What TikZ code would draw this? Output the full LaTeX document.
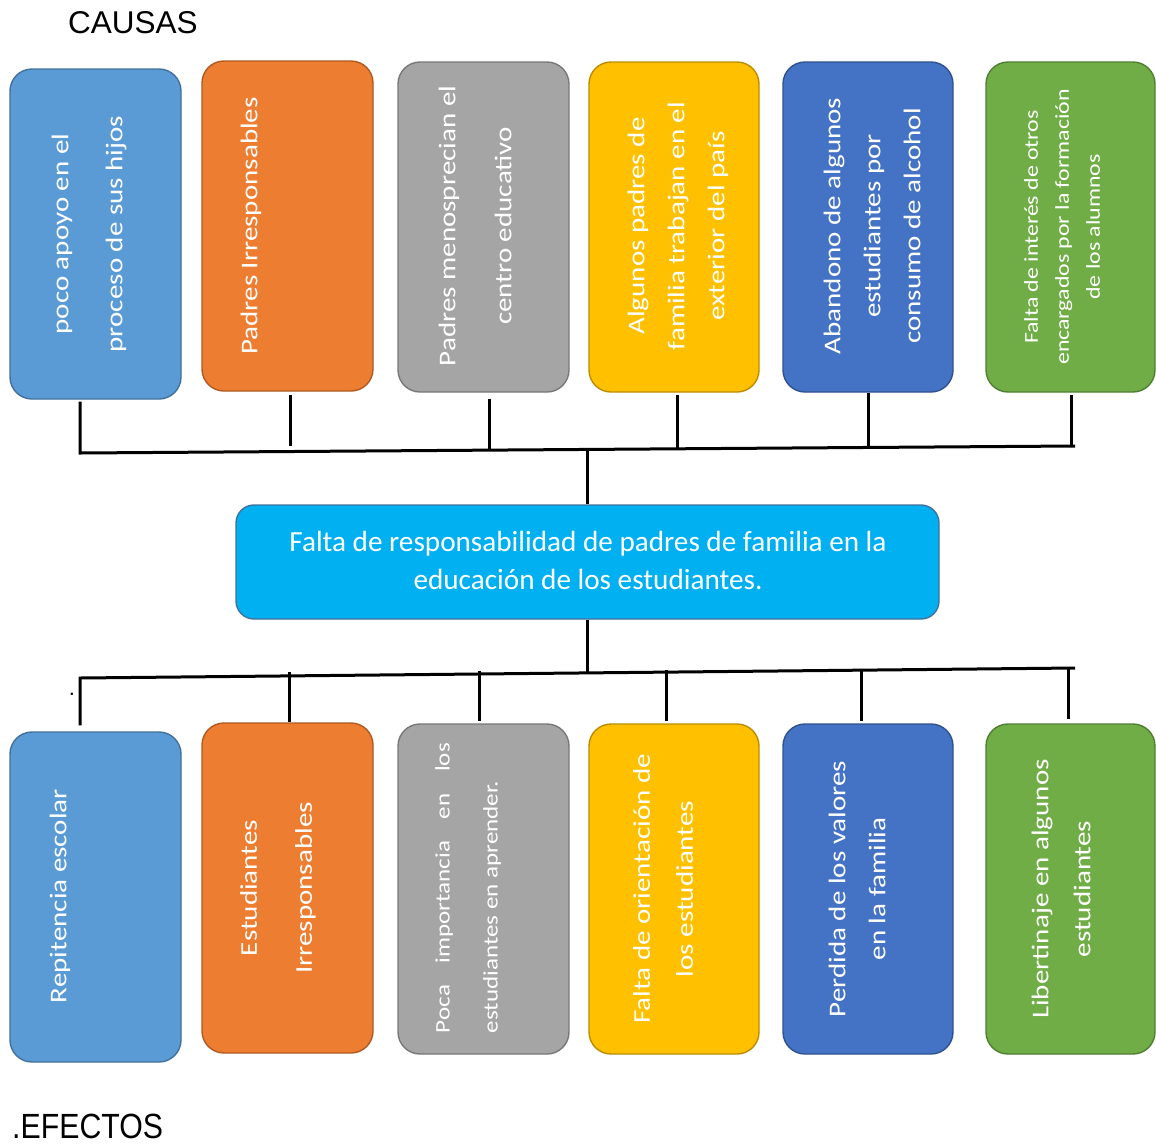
\documentclass[tikz,border=0pt]{standalone}
\usepackage{fontspec}
\setmainfont{Carlito}
\newfontfamily\rotfont[FakeStretch=1.21]{Carlito}
\newfontfamily\horfont{Carlito}
\newfontfamily\arialfont{Liberation Sans}
\newfontfamily\efont[FakeStretch=0.865]{Liberation Sans}
\definecolor{cblue}{HTML}{5B9BD5}\definecolor{cblueb}{HTML}{41719C}
\definecolor{corange}{HTML}{ED7D31}\definecolor{corangeb}{HTML}{AE5A21}
\definecolor{cgray}{HTML}{A5A5A5}\definecolor{cgrayb}{HTML}{787878}
\definecolor{cgold}{HTML}{FFC000}\definecolor{cgoldb}{HTML}{BC8C00}
\definecolor{cdblue}{HTML}{4472C4}\definecolor{cdblueb}{HTML}{2F528F}
\definecolor{cgreen}{HTML}{70AD47}\definecolor{cgreenb}{HTML}{507E32}
\definecolor{ccyan}{HTML}{00B0F0}\definecolor{ccyanb}{HTML}{41719C}
\begin{document}
\begin{tikzpicture}[x=1pt,y=-1pt,
  box/.style={rectangle, rounded corners=22pt, line width=1.4pt,
    minimum width=171pt, minimum height=330pt, inner sep=0pt},
  vtext/.style={rotate=90, align=center, text=white, inner sep=0pt},
  conn/.style={line width=3pt, draw=black},
  title/.style={anchor=base west, inner sep=0pt, text=black}]
\useasboundingbox (0,0) rectangle (1156,1144);
\fill[white] (0,0) rectangle (1156,1144);

% titles
\node[title, font=\arialfont\fontsize{31.5}{36}\selectfont] (causas) at (68,33) {CAUSAS};
\node[title, font=\efont\fontsize{35}{40}\selectfont] (efectos) at (12,1138) {.EFECTOS};
\node[inner sep=0pt, font=\arialfont\fontsize{22}{24}\selectfont] (dot) at (72,694) {.};

% top boxes (causes)
\node[box, fill=cblue, draw=cblueb] (t1) at (95.5,234) {};
\node[box, fill=corange, draw=corangeb] (t2) at (287.5,226) {};
\node[box, fill=cgray, draw=cgrayb] (t3) at (483.5,227) {};
\node[box, fill=cgold, draw=cgoldb, minimum width=170pt] (t4) at (674,227) {};
\node[box, fill=cdblue, draw=cdblueb, minimum width=170pt] (t5) at (868,227) {};
\node[box, fill=cgreen, draw=cgreenb, minimum width=169pt] (t6) at (1070.5,227) {};

\node[vtext, font=\rotfont\fontsize{24}{54}\selectfont] (tx1) at (89,234) {poco apoyo en el\\proceso de sus hijos};
\node[vtext, font=\rotfont\fontsize{24}{54}\selectfont] (tx2) at (251,226) {Padres Irresponsables};
\node[vtext, font=\rotfont\fontsize{24}{56}\selectfont] (tx3) at (475,226) {Padres menosprecian el\\centro educativo};
\node[vtext, font=\rotfont\fontsize{24}{40}\selectfont] (tx4) at (678,226) {Algunos padres de\\familia trabajan en el\\exterior del país};
\node[vtext, font=\rotfont\fontsize{24}{40}\selectfont] (tx5) at (872,226) {Abandono de algunos\\estudiantes por\\consumo de alcohol};
\node[vtext, font=\rotfont\fontsize{19.7}{31}\selectfont] (tx6) at (1062,227) {Falta de interés de otros\\encargados por la formación\\de los alumnos};

% central problem
\node[rectangle, rounded corners=18pt, line width=1.4pt, fill=ccyan, draw=ccyanb,
  minimum width=703pt, minimum height=114pt, inner sep=0pt] (c) at (587.5,562) {};
\node[align=center, text=white, inner sep=0pt, font=\horfont\fontsize{29.2}{38}\selectfont] (ctx) at (588,560)
  {Falta de responsabilidad de padres de familia en la\\educación de los estudiantes.};

% bottom boxes (effects)
\node[box, fill=cblue, draw=cblueb] (b1) at (95.5,897) {};
\node[box, fill=corange, draw=corangeb] (b2) at (287.5,888) {};
\node[box, fill=cgray, draw=cgrayb] (b3) at (483.5,889) {};
\node[box, fill=cgold, draw=cgoldb, minimum width=170pt] (b4) at (674,889) {};
\node[box, fill=cdblue, draw=cdblueb, minimum width=170pt] (b5) at (868,889) {};
\node[box, fill=cgreen, draw=cgreenb, minimum width=169pt] (b6) at (1070.5,889) {};

\node[vtext, font=\rotfont\fontsize{24}{54}\selectfont] (bx1) at (60,896) {Repitencia escolar};
\node[vtext, font=\rotfont\fontsize{24}{55}\selectfont] (bx2) at (278,888) {Estudiantes\\Irresponsables};
\node[vtext, align=left, font=\rotfont\fontsize{20.7}{48}\selectfont] (bx3) at (468,888)
  {\hbox to 290pt{Poca\hfill importancia\hfill en\hfill los}\\estudiantes en aprender.};
\node[vtext, font=\rotfont\fontsize{24}{43}\selectfont] (bx4) at (663,889) {Falta de orientación de\\los estudiantes};
\node[vtext, font=\rotfont\fontsize{24}{40}\selectfont] (bx5) at (857,889) {Perdida de los valores\\en la familia};
\node[vtext, font=\rotfont\fontsize{24}{42}\selectfont] (bx6) at (1061,889) {Libertinaje en algunos\\estudiantes};

% top connector bar
\coordinate (j1) at (80,453);
\coordinate (jR) at (1075,446);
\coordinate (j2) at (290,446);
\coordinate (j3) at (489,450);
\coordinate (j4) at (677,449);
\coordinate (j5) at (868,447);
\coordinate (j6) at (1071,446);
\coordinate (cj) at (587,450);
\draw[conn] ([yshift=-2pt]t1.south -| j1) -- (j1) -- (jR);
\draw[conn] ([yshift=-3pt]t2.south -| j2) -- (j2);
\draw[conn] ([yshift=-6pt]t3.south -| j3) -- (j3);
\draw[conn] ([yshift=-2pt]t4.south -| j4) -- (j4);
\draw[conn] (t5.south -| j5) -- (j5);
\draw[conn] ([yshift=-2pt]t6.south -| j6) -- (j6);
\draw[conn] (cj) -- (c.north -| cj);

% bottom connector bar
\coordinate (ck) at (587,673);
\coordinate (k1) at (80,678);
\coordinate (kR) at (1075,668);
\coordinate (k2) at (289,672);
\coordinate (k3) at (479,671);
\coordinate (k4) at (666,670);
\coordinate (k5) at (861,670);
\coordinate (k6) at (1068,668);
\draw[conn] (c.south -| ck) -- (ck);
\draw[conn] ([yshift=6pt]b1.north -| k1) -- (k1) -- (kR);
\draw[conn] (k2) -- (b2.north -| k2);
\draw[conn] (k3) -- ([yshift=2pt]b3.north -| k3);
\draw[conn] (k4) -- ([yshift=2pt]b4.north -| k4);
\draw[conn] (k5) -- ([yshift=2pt]b5.north -| k5);
\draw[conn] (k6) -- ([yshift=4pt]b6.north -| k6);
\end{tikzpicture}
\end{document}
